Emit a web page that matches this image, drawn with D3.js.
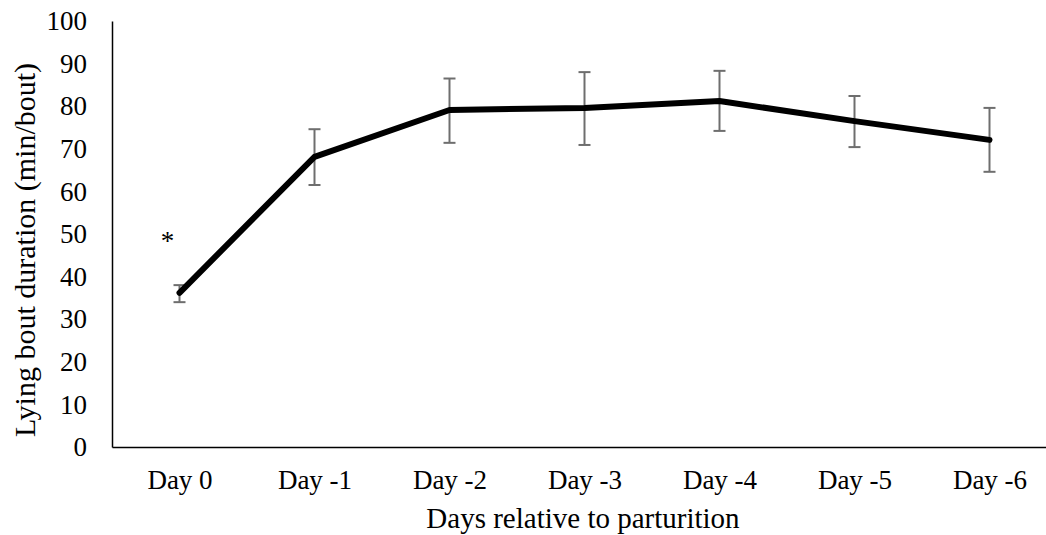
<!DOCTYPE html>
<html>
<head>
<meta charset="utf-8">
<script src="https://cdn.jsdelivr.net/npm/d3@7"></script>
<style>
  html, body { margin: 0; padding: 0; background: #fff; }
  svg { display: block; }
  text { font-family: "Liberation Serif", "Times New Roman", serif; fill: #000; }
</style>
</head>
<body>
<svg id="chart" width="1046" height="535"></svg>
<script>
// ---- data ----
const days = ["Day 0", "Day -1", "Day -2", "Day -3", "Day -4", "Day -5", "Day -6"];
const meanDuration = [36.2, 68.1, 79.1, 79.6, 81.2, 76.5, 72.1];
const errUpper = [38.0, 74.6, 86.5, 88.0, 88.3, 82.4, 79.6];
const errLower = [34.0, 61.5, 71.4, 70.9, 74.2, 70.4, 64.6];
const yTicks = [0, 10, 20, 30, 40, 50, 60, 70, 80, 90, 100];
const markDay = ["Day 0"];
const markValue = [49];
const markText = ["*"];

const svg = d3.select("#chart");
const mLeft = 112, mRight = 1057, mTop = 21, mBottom = 447;

const x = d3.scalePoint().domain(days).range([mLeft, mRight]).padding(0.5);
const y = d3.scaleLinear().domain([0, 100]).range([mBottom, mTop]);

// y axis
const yAxis = svg.append("g").attr("transform", `translate(${mLeft},0)`)
  .call(d3.axisLeft(y).tickValues(yTicks).tickSize(0).tickPadding(25));
yAxis.select(".domain").attr("stroke", "#000").attr("stroke-width", 1.5);
yAxis.selectAll("text").attr("font-size", 27).attr("font-family", "Liberation Serif");

// x axis
const xAxis = svg.append("g").attr("transform", `translate(0,${mBottom})`)
  .call(d3.axisBottom(x).tickSize(0).tickPadding(23));
xAxis.select(".domain").attr("stroke", "#000").attr("stroke-width", 1.5);
xAxis.selectAll("text").attr("font-size", 27).attr("font-family", "Liberation Serif");

// error bars
const eb = svg.append("g");
days.forEach((d, i) => {
  const cx = x(d);
  eb.append("line").attr("x1", cx).attr("x2", cx)
    .attr("y1", y(errUpper[i])).attr("y2", y(errLower[i]))
    .attr("stroke", "#6e6e6e").attr("stroke-width", 2);
  [errUpper[i], errLower[i]].forEach(v => {
    eb.append("line").attr("x1", cx - 6).attr("x2", cx + 6)
      .attr("y1", y(v)).attr("y2", y(v))
      .attr("stroke", "#6e6e6e").attr("stroke-width", 2);
  });
});

// line
const line = d3.line().x((d, i) => x(days[i])).y(d => y(d));
svg.append("path").datum(meanDuration)
  .attr("d", line).attr("fill", "none")
  .attr("stroke", "#000").attr("stroke-width", 6)
  .attr("stroke-linejoin", "round").attr("stroke-linecap", "round");

// significance mark
markDay.forEach((d, i) => {
  svg.append("text").attr("x", x(d) - 12).attr("y", y(markValue[i]) + 12)
    .attr("text-anchor", "middle").attr("font-size", 27).text(markText[i]);
});

// axis titles
svg.append("text").attr("x", 583).attr("y", 528)
  .attr("text-anchor", "middle").attr("font-size", 29)
  .text("Days relative to parturition");
svg.append("text").attr("transform", "translate(35,250) rotate(-90)")
  .attr("text-anchor", "middle").attr("font-size", 30)
  .text("Lying bout duration (min/bout)");
</script>
</body>
</html>
